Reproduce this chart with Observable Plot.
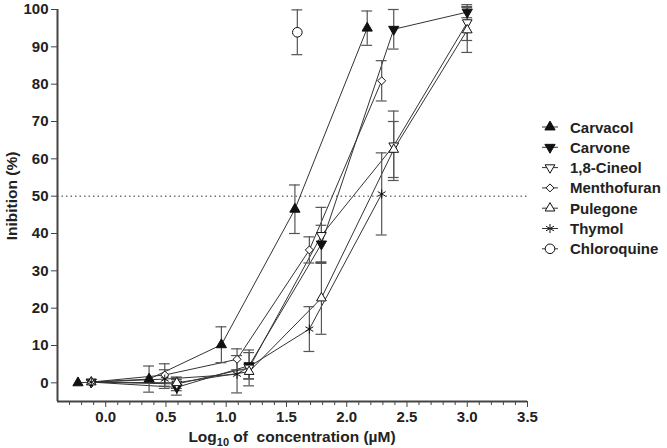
<!DOCTYPE html>
<html>
<head>
<meta charset="utf-8">
<script src="https://cdn.jsdelivr.net/npm/d3@7"></script>
<script src="https://cdn.jsdelivr.net/npm/@observablehq/plot@0.6"></script>
<style>
  html, body { margin: 0; padding: 0; background: #fff; }
  #chart svg { display: block; }
</style>
</head>
<body>
<div id="chart"></div>
<script>
// ---- data ----
const seriesNames = ["Carvacol", "Carvone", "1,8-Cineol", "Menthofuran", "Pulegone", "Thymol", "Chloroquine"];

const carvacolX   = [-0.23, 0.36, 0.96, 1.57, 2.17];
const carvacolY   = [0.0, 1.0, 10.2, 46.5, 95.0];
const carvacolErr = [0, 3.5, 4.8, 6.5, 4.6];

const carvoneX   = [-0.12, 0.59, 1.19, 1.79, 2.39, 3.0];
const carvoneY   = [0.2, -1.2, 4.6, 37.2, 94.7, 99.3];
const carvoneErr = [0, 2.1, 3.5, 5.0, 5.3, 1.5];

const cineolX   = [-0.12, 0.59, 1.19, 1.79, 2.39, 3.0];
const cineolY   = [0.2, -0.3, 4.0, 39.5, 63.5, 96.5];
const cineolErr = [0, 1.8, 4.8, 7.5, 9.3, 4.8];

const menthofuranX   = [-0.12, 0.49, 1.09, 1.69, 2.29];
const menthofuranY   = [0.2, 2.1, 6.3, 35.6, 80.9];
const menthofuranErr = [0, 3.0, 2.8, 3.5, 5.4];

const pulegoneX   = [-0.12, 0.59, 1.19, 1.79, 2.39, 3.0];
const pulegoneY   = [0.2, 0.0, 3.0, 22.7, 62.5, 94.5];
const pulegoneErr = [0, 1.5, 2.0, 9.7, 7.5, 6.0];

const thymolX   = [-0.12, 0.49, 1.09, 1.69, 2.29];
const thymolY   = [0.2, 1.0, 2.3, 14.4, 50.6];
const thymolErr = [0, 2.5, 5.0, 6.0, 11.0];

const chloroquineX   = [1.59];
const chloroquineY   = [93.9];
const chloroquineErr = [6.0];

const yTicks = [0, 10, 20, 30, 40, 50, 60, 70, 80, 90, 100];
const xTicks = [0.0, 0.5, 1.0, 1.5, 2.0, 2.5, 3.0, 3.5];
const xMinorTicks = d3.range(-3, 36).map(i => i / 10).filter(v => Math.abs(v * 2 - Math.round(v * 2)) > 1e-6);
const thresholdY = [50];

// ---- styles ----
const styles = {
  "Carvacol":    {symbol: "triangle", fill: "#111", rotate: 0,   r: 3.8},
  "Carvone":     {symbol: "triangle", fill: "#111", rotate: 180, r: 3.8},
  "1,8-Cineol":  {symbol: "triangle", fill: "white", rotate: 180, r: 3.6},
  "Menthofuran": {symbol: "diamond2", fill: "white", rotate: 0,   r: 3.6},
  "Pulegone":    {symbol: "triangle", fill: "white", rotate: 0,   r: 3.6},
  "Thymol":      {symbol: "asterisk", fill: "none",  rotate: 0,   r: 4.3},
  "Chloroquine": {symbol: "circle",   fill: "white", rotate: 0,   r: 4.8}
};

const raw = {
  "Carvacol": [carvacolX, carvacolY, carvacolErr],
  "Carvone": [carvoneX, carvoneY, carvoneErr],
  "1,8-Cineol": [cineolX, cineolY, cineolErr],
  "Menthofuran": [menthofuranX, menthofuranY, menthofuranErr],
  "Pulegone": [pulegoneX, pulegoneY, pulegoneErr],
  "Thymol": [thymolX, thymolY, thymolErr],
  "Chloroquine": [chloroquineX, chloroquineY, chloroquineErr]
};

const table = seriesNames.map(name => {
  const [xs, ys, es] = raw[name];
  return {name, rows: xs.map((x, i) => ({name, x, y: ys[i], err: es[i]}))};
});

const capHalf = 0.045;
const ink = "#222";
const axisInk = "#444";
const fontFamily = "'Liberation Sans', Arial, sans-serif";

const marks = [];
marks.push(Plot.ruleY(thresholdY, {stroke: "#333", strokeWidth: 1, strokeDasharray: "1.5,3"}));
for (const s of table) {
  marks.push(Plot.line(s.rows, {x: "x", y: "y", stroke: "#333", strokeWidth: 1}));
}
for (const s of table) {
  const e = s.rows.filter(d => d.err > 0);
  marks.push(Plot.ruleX(e, {x: "x", y1: d => d.y - d.err, y2: d => d.y + d.err, stroke: "#555", strokeWidth: 1.2}));
  marks.push(Plot.ruleY(e, {y: d => d.y + d.err, x1: d => d.x - capHalf, x2: d => d.x + capHalf, stroke: "#555", strokeWidth: 1.2}));
  marks.push(Plot.ruleY(e, {y: d => d.y - d.err, x1: d => d.x - capHalf, x2: d => d.x + capHalf, stroke: "#555", strokeWidth: 1.2}));
}
for (const s of table) {
  const st = styles[s.name];
  marks.push(Plot.dot(s.rows, {x: "x", y: "y", symbol: st.symbol, r: st.r, rotate: st.rotate,
    fill: st.fill, stroke: "#111", strokeWidth: 1}));
}
// axes
marks.push(Plot.axisY({ticks: yTicks, tickSize: 6, tickPadding: 3, label: null, stroke: axisInk, fill: ink}));
marks.push(Plot.axisX({ticks: xTicks, tickSize: 6, tickPadding: 4, tickFormat: d3.format(".1f"), label: null, stroke: axisInk, fill: ink}));
marks.push(Plot.axisX({ticks: xMinorTicks, tickSize: 4, text: null, label: null, stroke: axisInk}));
marks.push(Plot.ruleX([-0.4], {y1: -5, y2: 100, stroke: axisInk, strokeWidth: 2}));
marks.push(Plot.ruleY([-5], {x1: -0.4, x2: 3.5, stroke: axisInk, strokeWidth: 2}));

const svg = Plot.plot({
  width: 667,
  height: 448,
  marginLeft: 57,
  marginRight: 140,
  marginTop: 9,
  marginBottom: 47,
  x: {domain: [-0.4, 3.5]},
  y: {domain: [-5, 100]},
  style: {fontFamily, fontSize: "15px", fontWeight: "bold", color: ink, background: "white"},
  marks
});
document.getElementById("chart").appendChild(svg);

const g = d3.select(svg).append("g")
  .attr("font-family", fontFamily)
  .attr("font-weight", "bold")
  .attr("fill", ink);

// axis titles
g.append("text")
  .attr("transform", "translate(17,196) rotate(-90)")
  .attr("text-anchor", "middle")
  .attr("font-size", 15.5)
  .text("Inibition (%)");

const xl = g.append("text")
  .attr("x", 292).attr("y", 442)
  .attr("text-anchor", "middle")
  .attr("font-size", 15.5)
  .style("white-space", "pre");
xl.append("tspan").text("Log");
xl.append("tspan").attr("font-size", 11).attr("dy", 4).text("10");
xl.append("tspan").attr("dy", -4).text(" of  concentration (\u00B5M)");

// legend
const symMap = {triangle: d3.symbolTriangle, diamond2: d3.symbolDiamond2, asterisk: d3.symbolAsterisk, circle: d3.symbolCircle};
seriesNames.forEach((name, i) => {
  const st = styles[name];
  const cy = 127 + i * 20.3;
  const lg = g.append("g").attr("transform", `translate(550,${cy})`);
  lg.append("line").attr("x1", -8).attr("x2", 8).attr("stroke", "#333").attr("stroke-width", 1);
  lg.append("path")
    .attr("d", d3.symbol(symMap[st.symbol], Math.PI * st.r * st.r)())
    .attr("transform", `rotate(${st.rotate})`)
    .attr("fill", st.fill).attr("stroke", "#111").attr("stroke-width", 1);
  g.append("text").attr("x", 570).attr("y", cy + 5.5)
    .attr("text-anchor", "start").attr("font-size", 15).text(name);
});
</script>
</body>
</html>
